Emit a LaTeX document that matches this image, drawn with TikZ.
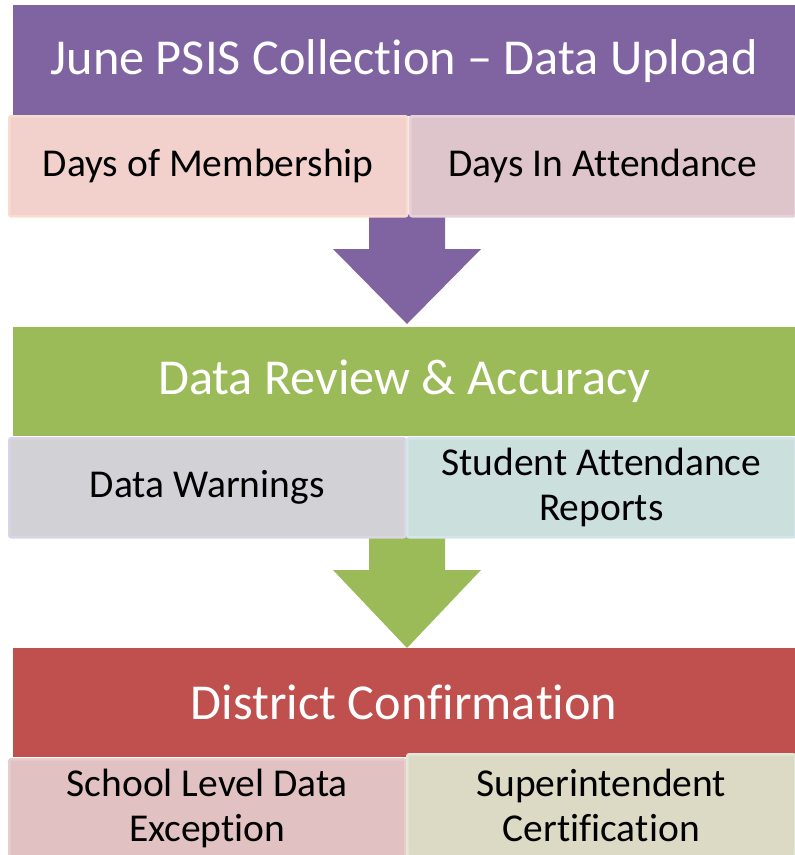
\documentclass[tikz,border=0pt]{standalone}
\usepackage{fontspec}
\setmainfont{Carlito}[Ligatures={NoCommon,NoContextual,NoRare},Contextuals={NoAlternate}]
\usetikzlibrary{calc}
\newcommand{\nolig}{\kern0pt }
\definecolor{hpurple}{HTML}{8064A2}
\definecolor{hgreen}{HTML}{9BBB59}
\definecolor{hred}{HTML}{C0504D}
\definecolor{aFill}{HTML}{F2D0CB}\definecolor{aLine}{HTML}{F9DCD0}
\definecolor{bFill}{HTML}{DEC4CB}\definecolor{bLine}{HTML}{E6D2D8}
\definecolor{cFill}{HTML}{D2D1D5}\definecolor{cLine}{HTML}{DAD5E4}
\definecolor{dFill}{HTML}{CBDFDD}\definecolor{dLine}{HTML}{D5E6EB}
\definecolor{eFill}{HTML}{E1C1C2}\definecolor{eLine}{HTML}{E8CDCD}
\definecolor{fFill}{HTML}{DCD9C4}\definecolor{fLine}{HTML}{E2E8D6}
\begin{document}
\begin{tikzpicture}[x=1pt,y=-1pt,
  header/.style={rectangle, anchor=north west, inner sep=0pt, text=white,
    font=\fontsize{50.3}{60}\selectfont, minimum width=782pt, minimum height=#1},
  subbox/.style={rectangle, anchor=north west, inner sep=0pt, line width=2.5pt,
    rounded corners=2pt, text=black, align=center,
    font=\fontsize{39.5}{45}\selectfont}]
\useasboundingbox (0,0) rectangle (795,855);
\fill[white] (0,0) rectangle (795,855);
% headers
\node[header=111pt, fill=hpurple] (h1) at (13,5) {June PSIS Collec\nolig tion -- Data Upload};
\node[header=109pt, fill=hgreen] (h2) at (13,327) {Data Review \& Accuracy};
\node[header=109pt, fill=hred] (h3) at (13,648) {District Conf\nolig irma\nolig tion};
% arrows
\coordinate (a1top) at (407,214);
\coordinate (a1tip) at (407,324);
\coordinate (a2top) at (407,535);
\coordinate (a2tip) at (407,648);
\fill[hpurple] ($(a1top)+(-38,0)$) -- ($(a1top)+(38,0)$) -- ($(a1tip)+(38,-75)$)
  -- ($(a1tip)+(74,-75)$) -- (a1tip) -- ($(a1tip)+(-74,-75)$) -- ($(a1tip)+(-38,-75)$) -- cycle;
\fill[hgreen] ($(a2top)+(-38,0)$) -- ($(a2top)+(38,0)$) -- ($(a2tip)+(38,-78)$)
  -- ($(a2tip)+(74,-78)$) -- (a2tip) -- ($(a2tip)+(-74,-78)$) -- ($(a2tip)+(-38,-78)$) -- cycle;
% sub boxes
\node[subbox, draw=aLine, fill=aFill, minimum width=398pt, minimum height=100pt] (s1) at (8,115) {Days of Membership};
\node[subbox, draw=bLine, fill=bFill, minimum width=385pt, minimum height=100pt] (s2) at (409,115) {Days In At\nolig tendance};
\node[subbox, draw=cLine, fill=cFill, minimum width=396pt, minimum height=99pt] (s3) at (8,437) {Data Warnings};
\node[subbox, draw=dLine, fill=dFill, minimum width=388pt, minimum height=99pt] (s4) at (406,437) {Student At\nolig tendance\\Reports};
\node[subbox, draw=eLine, fill=eFill, minimum width=396pt, minimum height=98pt] (s5) at (8,758) {School Level Data\\Exception};
\node[subbox, draw=fLine, fill=fFill, minimum width=388pt, minimum height=102pt] (s6) at (406,753) {Superintendent\\Certif\nolig ica\nolig tion};
\end{tikzpicture}
\end{document}
